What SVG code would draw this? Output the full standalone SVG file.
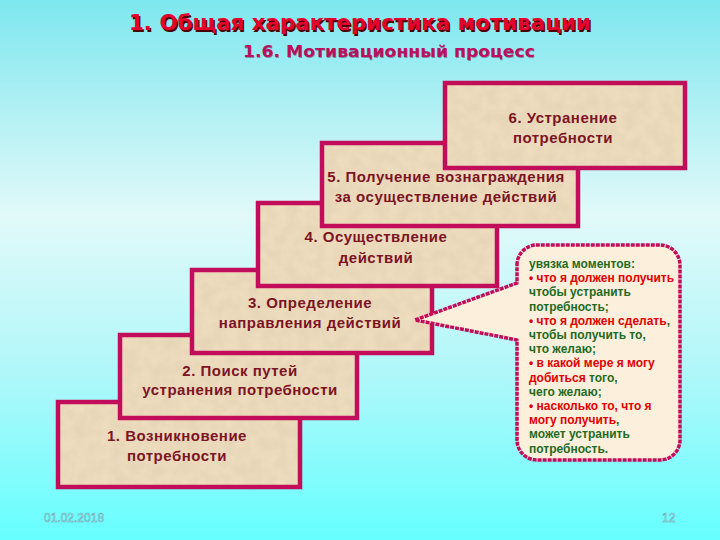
<svg xmlns="http://www.w3.org/2000/svg" width="720" height="540" viewBox="0 0 720 540">
<defs>
<linearGradient id="bg" x1="0" y1="0" x2="0" y2="1">
<stop offset="0" stop-color="#7ee7ef"/>
<stop offset="0.4" stop-color="#e2f9f9"/>
<stop offset="0.7" stop-color="#aef7f9"/>
<stop offset="1" stop-color="#66ffff"/>
</linearGradient>
<filter id="tex" x="0" y="0" width="1" height="1">
<feTurbulence type="fractalNoise" baseFrequency="0.08" numOctaves="3" seed="4" result="n"/>
<feColorMatrix in="n" type="matrix" values="0 0 0 0 0.55  0 0 0 0 0.45  0 0 0 0 0.3  0 0 0 0.3 0" result="c"/>
<feComposite in="c" in2="SourceGraphic" operator="in" result="t"/>
<feMerge><feMergeNode in="SourceGraphic"/><feMergeNode in="t"/></feMerge>
</filter>
<style>
.fill{fill:#f1dfc1}
.box{fill:none;stroke:#c20e5a;stroke-width:4.5}
.lbl{font-family:"Liberation Sans",Arial,sans-serif;font-size:15px;font-weight:bold;fill:#7c1424;text-anchor:middle;letter-spacing:0.5px}
.co{font-family:"Liberation Sans",Arial,sans-serif;font-size:12px;font-weight:bold}
.g{fill:#1f6b1f}
.r{fill:#e00000}
.foot{font-family:"Liberation Sans",Arial,sans-serif;font-size:12px;fill:#a8ffff;stroke:#6f9aa8;stroke-width:0.5}
</style>
</defs>
<rect x="0" y="0" width="720" height="540" fill="url(#bg)"/>
<g id="title">
<text x="130.5" y="31.5" font-family="'DejaVu Sans',Verdana,sans-serif" font-size="21" font-weight="bold" fill="#4a0000" textLength="462" lengthAdjust="spacingAndGlyphs">1. Общая характеристика мотивации</text>
<text x="129" y="30" font-family="'DejaVu Sans',Verdana,sans-serif" font-size="21" font-weight="bold" fill="#e4002c" textLength="462" lengthAdjust="spacingAndGlyphs">1. Общая характеристика мотивации</text>
<text x="243.5" y="57.5" font-family="'DejaVu Sans',Verdana,sans-serif" font-size="16" font-weight="bold" fill="#5a0030" opacity="0.4" textLength="292" lengthAdjust="spacingAndGlyphs">1.6. Мотивационный процесс</text>
<text x="243" y="57" font-family="'DejaVu Sans',Verdana,sans-serif" font-size="16" font-weight="bold" fill="#b8105e" textLength="292" lengthAdjust="spacingAndGlyphs">1.6. Мотивационный процесс</text>
</g>
<g id="step1">
<rect class="fill" x="58" y="402" width="242" height="85" filter="url(#tex)"/>
<rect class="box" x="58" y="402" width="242" height="85"/>
<text class="lbl" x="177" y="441">1. Возникновение</text>
<text class="lbl" x="177" y="461">потребности</text>
</g>
<g id="step2">
<rect class="fill" x="120" y="335" width="237" height="83" filter="url(#tex)"/>
<rect class="box" x="120" y="335" width="237" height="83"/>
<text class="lbl" x="240" y="376">2. Поиск путей</text>
<text class="lbl" x="240" y="395">устранения потребности</text>
</g>
<g id="step3">
<rect class="fill" x="192" y="270" width="240" height="83" filter="url(#tex)"/>
<rect class="box" x="192" y="270" width="240" height="83"/>
<text class="lbl" x="310" y="308">3. Определение</text>
<text class="lbl" x="310" y="328">направления действий</text>
</g>
<g id="step4">
<rect class="fill" x="258" y="203" width="239" height="83" filter="url(#tex)"/>
<rect class="box" x="258" y="203" width="239" height="83"/>
<text class="lbl" x="376" y="242">4. Осуществление</text>
<text class="lbl" x="376" y="263">действий</text>
</g>
<g id="step5">
<rect class="fill" x="322" y="143" width="256" height="83" filter="url(#tex)"/>
<rect class="box" x="322" y="143" width="256" height="83"/>
<text class="lbl" x="446" y="182">5. Получение вознаграждения</text>
<text class="lbl" x="446" y="202">за осуществление действий</text>
</g>
<g id="step6">
<rect class="fill" x="445" y="83" width="240" height="85" filter="url(#tex)"/>
<rect class="box" x="445" y="83" width="240" height="85"/>
<text class="lbl" x="563" y="123">6. Устранение</text>
<text class="lbl" x="563" y="143">потребности</text>
</g>
<g id="callout">
<path d="M517,265 A20,20 0 0 1 537,245 L660,245 A20,20 0 0 1 680,265 L680,440 A20,20 0 0 1 660,460 L537,460 A20,20 0 0 1 517,440 L517,340 L415,320 L517,283 Z" fill="#fcefdc" stroke="#c20e5a" stroke-width="3.5" stroke-dasharray="4 1" stroke-linejoin="round"/>
<text class="co" x="529">
<tspan class="g" x="529" y="268">увязка моментов:</tspan>
<tspan class="r" x="529" y="282.2">• что я должен получить</tspan>
<tspan class="g" x="529" y="296.4">чтобы устранить</tspan>
<tspan class="g" x="529" y="310.6">потребность;</tspan>
<tspan class="r" x="529" y="324.8">• что я должен сделать</tspan><tspan class="g">,</tspan>
<tspan class="g" x="529" y="339">чтобы получить то,</tspan>
<tspan class="g" x="529" y="353.2">что желаю;</tspan>
<tspan class="r" x="529" y="367.4">• в какой мере я могу</tspan>
<tspan class="r" x="529" y="381.6">добиться</tspan><tspan class="g"> того,</tspan>
<tspan class="g" x="529" y="395.8">чего желаю;</tspan>
<tspan class="r" x="529" y="410">• насколько то, что я</tspan>
<tspan class="r" x="529" y="424.2">могу получить</tspan><tspan class="g">,</tspan>
<tspan class="g" x="529" y="438.4">может устранить</tspan>
<tspan class="g" x="529" y="452.6">потребность.</tspan>
</text>
</g>
<g id="footer">
<text class="foot" x="44" y="522">01.02.2018</text>
<text class="foot" x="662" y="522">12</text>
</g>
</svg>
